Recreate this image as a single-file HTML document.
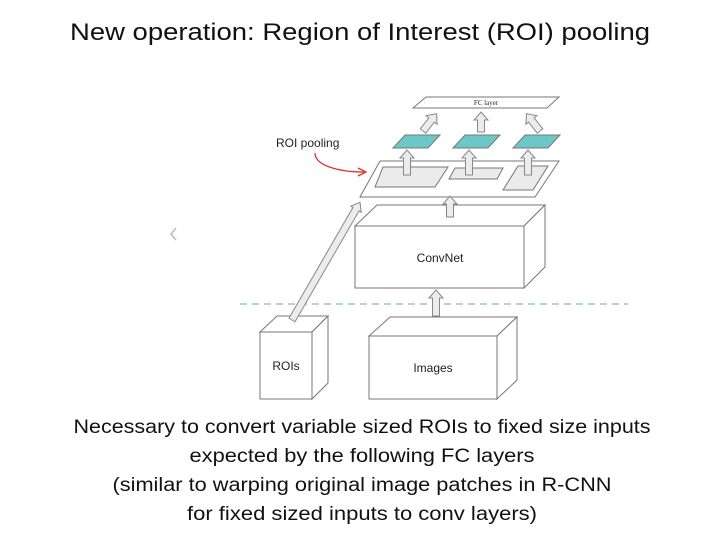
<!DOCTYPE html>
<html><head><meta charset="utf-8"><style>
html,body{margin:0;padding:0;background:#fff;}
svg{display:block;}
</style></head><body>
<svg width="720" height="540" viewBox="0 0 720 540" xmlns="http://www.w3.org/2000/svg">
<rect width="720" height="540" fill="#fff"/>
<text x="360" y="40" text-anchor="middle" font-family="Liberation Sans, sans-serif" font-size="24" fill="#111" textLength="580" lengthAdjust="spacingAndGlyphs">New operation: Region of Interest (ROI) pooling</text>

<!-- chevron -->
<polyline points="176,228 171,234 176,240" fill="none" stroke="#bbb" stroke-width="1.5"/>

<!-- dashed line -->
<line x1="240" y1="304" x2="628" y2="304" stroke="#8cc8d8" stroke-width="1.5" stroke-dasharray="7,5"/>

<g stroke="#777" stroke-width="1" fill="#fff">
<!-- FC layer -->
<polygon points="426,97 559,97 547,108 413,108"/>
<!-- feature map -->
<polygon points="380,161 559,161 535,197 360,197"/>
<polygon points="383,167 448,167 435,187 375,187" fill="#ebebeb"/>
<polygon points="455,168 503,168 497,179 449,179" fill="#ebebeb"/>
<polygon points="518,166 548,166 533,190 503,190" fill="#ebebeb"/>
<!-- teal -->
<polygon points="405,135 440,135 428,148 393,148" fill="#6cc8c8"/>
<polygon points="465,135 500,135 488,148 453,148" fill="#6cc8c8"/>
<polygon points="525,135 560,135 548,148 513,148" fill="#6cc8c8"/>

<!-- ConvNet box -->
<polygon points="355,226 377,205 545,205 524,226"/>
<polygon points="524,226 545,205 545,267 524,288"/>
<rect x="355" y="226" width="169" height="62"/>
<!-- Images box -->
<polygon points="369,336 390,317 517,317 497,336"/>
<polygon points="497,336 517,317 517,380 497,399"/>
<rect x="369" y="336" width="128" height="63"/>
<!-- ROIs box -->
<polygon points="260,332 277,316 328,316 312,332"/>
<polygon points="312,332 328,316 328,383 312,399"/>
<rect x="260" y="332" width="52" height="67"/>
</g>

<!-- arrows -->
<g stroke="#888" stroke-width="1" fill="#ececec">
<path transform="translate(407,175)" d="M-3.5,0 L-3.5,-17 L-7,-17 L0,-25 L7,-17 L3.5,-17 L3.5,0 Z"/>
<path transform="translate(469,175)" d="M-3.5,0 L-3.5,-17 L-7,-17 L0,-25 L7,-17 L3.5,-17 L3.5,0 Z"/>
<path transform="translate(528,175)" d="M-3.5,0 L-3.5,-17 L-7,-17 L0,-25 L7,-17 L3.5,-17 L3.5,0 Z"/>
<path transform="translate(481,132)" d="M-3.5,0 L-3.5,-12 L-7,-12 L0,-20 L7,-12 L3.5,-12 L3.5,0 Z"/>
<path transform="translate(423,131) rotate(38)" d="M-3.5,0 L-3.5,-14 L-7,-14 L0,-22 L7,-14 L3.5,-14 L3.5,0 Z"/>
<path transform="translate(540,131) rotate(-38)" d="M-3.5,0 L-3.5,-14 L-7,-14 L0,-22 L7,-14 L3.5,-14 L3.5,0 Z"/>
<path transform="translate(450,217)" d="M-3.5,0 L-3.5,-13 L-7,-13 L0,-21 L7,-13 L3.5,-13 L3.5,0 Z"/>
<path transform="translate(436,316)" d="M-3.5,0 L-3.5,-18 L-7,-18 L0,-26 L7,-18 L3.5,-18 L3.5,0 Z"/>
<path transform="translate(292,320) rotate(30)" d="M-3.5,0 L-3.5,-128 L-6,-128 L0,-136 L6,-128 L3.5,-128 L3.5,0 Z"/>
</g>

<!-- red curved arrow -->
<path d="M315,153 C315,166 340,172 364,172" fill="none" stroke="#e03030" stroke-width="1.3"/>
<path d="M358,168 L366,172 L358,176" fill="none" stroke="#e03030" stroke-width="1.3"/>

<g font-family="Liberation Sans, sans-serif" fill="#222">
<text x="486" y="105" font-size="7" font-family="Liberation Serif, serif" text-anchor="middle">FC layer</text>
<text x="276" y="147" font-size="12">ROI pooling</text>
<text x="440" y="262" font-size="12" text-anchor="middle">ConvNet</text>
<text x="433" y="372" font-size="12" text-anchor="middle">Images</text>
<text x="286" y="370" font-size="12" text-anchor="middle">ROIs</text>
</g>

<g font-family="Liberation Sans, sans-serif" font-size="19" fill="#111" text-anchor="middle">
<text x="362" y="433" textLength="577" lengthAdjust="spacingAndGlyphs">Necessary to convert variable sized ROIs to fixed size inputs</text>
<text x="362" y="462" textLength="345" lengthAdjust="spacingAndGlyphs">expected by the following FC layers</text>
<text x="362" y="491" textLength="499" lengthAdjust="spacingAndGlyphs">(similar to warping original image patches in R-CNN</text>
<text x="362" y="520" textLength="350" lengthAdjust="spacingAndGlyphs">for fixed sized inputs to conv layers)</text>
</g>
</svg>
</body></html>
